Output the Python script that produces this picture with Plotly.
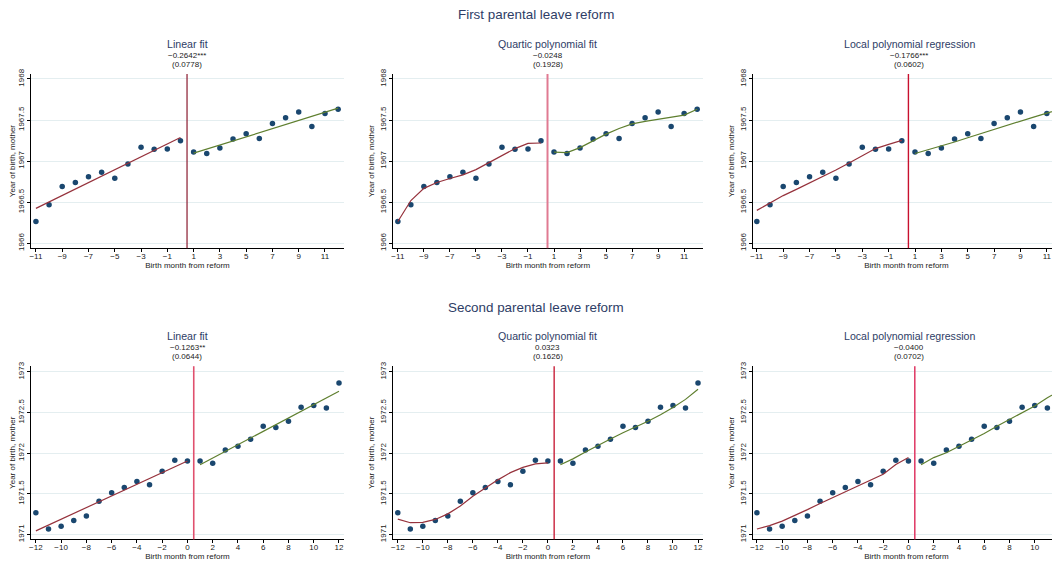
import plotly.graph_objects as go

# first reform: birth months -11..12, cutoff between 0 and 1
months_a_left = list(range(-11, 1))
months_a_right = list(range(1, 13))
yob_a_left = [1966.264, 1966.468, 1966.692, 1966.740, 1966.808, 1966.864,
              1966.792, 1966.964, 1967.168, 1967.144, 1967.148, 1967.248]
yob_a_right = [1967.112, 1967.092, 1967.160, 1967.268, 1967.332, 1967.276,
               1967.456, 1967.528, 1967.596, 1967.420, 1967.580, 1967.632]

lin_a_x_left = [-11, 0]
lin_a_left = [1966.424, 1967.288]
lin_a_x_right = [1, 12]
lin_a_right = [1967.096, 1967.644]

quart_a_left = [1966.264, 1966.520, 1966.668, 1966.740, 1966.788, 1966.832,
                1966.896, 1966.980, 1967.068, 1967.152, 1967.216, 1967.220]
quart_a_right = [1967.108, 1967.104, 1967.164, 1967.248, 1967.328, 1967.396,
                 1967.452, 1967.484, 1967.508, 1967.528, 1967.560, 1967.632]

loc_a_left = [1966.400, 1966.488, 1966.580, 1966.656, 1966.732, 1966.812,
              1966.892, 1966.976, 1967.064, 1967.152, 1967.204, 1967.252]
loc_a_right = [1967.092, 1967.136, 1967.184, 1967.232, 1967.284, 1967.336,
               1967.384, 1967.436, 1967.488, 1967.536, 1967.584, 1967.632]

# second reform: birth months -12..12
months_b_left = list(range(-12, 1))
months_b_right = list(range(1, 13))
yob_b_left = [1971.266, 1971.068, 1971.100, 1971.173, 1971.229, 1971.410, 1971.515,
              1971.579, 1971.652, 1971.612, 1971.777, 1971.913, 1971.905]
yob_b_right = [1971.905, 1971.877, 1972.038, 1972.087, 1972.171, 1972.332,
               1972.316, 1972.392, 1972.565, 1972.586, 1972.557, 1972.863]

lin_b_x_left = [-12, 0]
lin_b_left = [1971.044, 1971.905]
lin_b_x_right = [1, 12]
lin_b_right = [1971.857, 1972.763]

quart_b_left = [1971.189, 1971.145, 1971.149, 1971.185, 1971.254, 1971.350, 1971.471,
                1971.575, 1971.672, 1971.761, 1971.825, 1971.869, 1971.881]
quart_b_right = [1971.857, 1971.930, 1972.014, 1972.099, 1972.175, 1972.252,
                 1972.320, 1972.392, 1972.473, 1972.561, 1972.662, 1972.787]

loc_b_left = [1971.068, 1971.109, 1971.165, 1971.233, 1971.306, 1971.382, 1971.455,
              1971.523, 1971.596, 1971.664, 1971.740, 1971.861, 1971.946]
loc_b_right = [1971.857, 1971.946, 1972.006, 1972.082, 1972.163, 1972.243,
               1972.332, 1972.412, 1972.497, 1972.581, 1972.682, 1972.771]

panel_titles = ["Linear fit", "Quartic polynomial fit", "Local polynomial regression"]
coefs_a = ["−0.2642***", "−0.0248", "−0.1766***"]
ses_a = ["(0.0778)", "(0.1928)", "(0.0602)"]
coefs_b = ["−0.1263**", "0.0323", "−0.0400"]
ses_b = ["(0.0644)", "(0.1626)", "(0.0702)"]
row_titles = ["First parental leave reform", "Second parental leave reform"]

xticks_a = list(range(-11, 12, 2))
xticks_b = list(range(-12, 13, 2))
yticks_a = [1966, 1966.5, 1967, 1967.5, 1968]
yticks_b = [1971, 1971.5, 1972, 1972.5, 1973]
ylabels_a = ["1966", "1966.5", "1967", "1967.5", "1968"]
ylabels_b = ["1971", "1971.5", "1972", "1972.5", "1973"]

# page body has an 8px margin, so the figure is drawn 8px smaller and positions shifted
OFF = 8
W, H = 1060 - OFF, 565 - OFF
NAVY = "#1a476f"
MAROON = "#96323c"
GREEN = "#5f7f2f"
TITLE_C = "#2e3d66"
FONT = "Liberation Sans, Arial, sans-serif"


def fx(p):
    return (p - OFF) / W


def fy(p):
    return 1 - (p - OFF) / H


cols_px = [(28, 342), (391, 702), (752, 1060)]
rows_px = [(69, 246), (366, 542)]
xr_a = [[-11.38, 12.45], [-11.38, 12.45], [-11.3, 12.0]]
xr_b = [[-12.39, 12.4], [-12.39, 12.4], [-12.32, 12.0]]
cut_colors = [["#8a1a2e", "#e07a92", "#c8102e"], ["#e0506e", "#c8203a", "#e0406a"]]
cut_widths = [[1.2, 2, 1.4], [1.6, 1.4, 1.6]]

fig = go.Figure()

rows = [
    dict(xl=months_a_left, xr=months_a_right, yl=yob_a_left, yr=yob_a_right,
         fits=[(lin_a_x_left, lin_a_left, lin_a_x_right, lin_a_right),
               (months_a_left, quart_a_left, months_a_right, quart_a_right),
               (months_a_left, loc_a_left, months_a_right, loc_a_right)],
         coefs=coefs_a, ses=ses_a, xticks=xticks_a, yticks=yticks_a, ylabels=ylabels_a,
         yrange=[1965.94, 1968.06], xranges=xr_a),
    dict(xl=months_b_left, xr=months_b_right, yl=yob_b_left, yr=yob_b_right,
         fits=[(lin_b_x_left, lin_b_left, lin_b_x_right, lin_b_right),
               (months_b_left, quart_b_left, months_b_right, quart_b_right),
               (months_b_left, loc_b_left, months_b_right, loc_b_right)],
         coefs=coefs_b, ses=ses_b, xticks=xticks_b, yticks=yticks_b, ylabels=ylabels_b,
         yrange=[1970.94, 1973.07], xranges=xr_b),
]

annotations = []
shapes = []
k = 0
for r, row in enumerate(rows):
    top, bot = rows_px[r]
    for c in range(3):
        k += 1
        xa = "x" if k == 1 else f"x{k}"
        ya = "y" if k == 1 else f"y{k}"
        left, right = cols_px[c]
        fx_l, fy_l, fx_r, fy_r = row["fits"][c]

        # scatter of means
        fig.add_trace(go.Scatter(x=row["xl"] + row["xr"], y=row["yl"] + row["yr"],
                                 mode="markers", marker=dict(color=NAVY, size=5.5),
                                 xaxis=xa, yaxis=ya, showlegend=False))
        fig.add_trace(go.Scatter(x=fx_l, y=fy_l, mode="lines",
                                 line=dict(color=MAROON, width=1.2),
                                 xaxis=xa, yaxis=ya, showlegend=False))
        fig.add_trace(go.Scatter(x=fx_r, y=fy_r, mode="lines",
                                 line=dict(color=GREEN, width=1.2),
                                 xaxis=xa, yaxis=ya, showlegend=False))

        axis_common = dict(showline=True, linecolor="black", linewidth=1.2,
                           ticks="outside", ticklen=3, tickcolor="black",
                           tickfont=dict(size=8, color="#222", family=FONT),
                           zeroline=False)
        fig.layout[f"xaxis{k}" if k > 1 else "xaxis"] = dict(
            axis_common, domain=[fx(left), min(fx(right), 1)], anchor=ya,
            range=row["xranges"][c], tickvals=row["xticks"], showgrid=False,
            ticklabelstandoff=-3,
            title=dict(text="Birth month from reform", font=dict(size=8, color="#222", family=FONT),
                       standoff=1))
        fig.layout[f"yaxis{k}" if k > 1 else "yaxis"] = dict(
            axis_common, domain=[fy(bot), fy(top)], anchor=xa,
            range=row["yrange"], tickvals=row["yticks"], ticktext=row["ylabels"], tickangle=-90,
            showgrid=True, gridcolor="#e4eef0", gridwidth=1,
            title=dict(text="Year of birth, mother", font=dict(size=8, color="#222", family=FONT),
                       standoff=2))

        shapes.append(dict(type="line", xref=xa, yref=f"{ya} domain", x0=0.5, x1=0.5,
                           y0=0, y1=1, line=dict(color=cut_colors[r][c], width=cut_widths[r][c])))

        cx = fx((left + (right if c < 2 else 1066)) / 2)
        annotations.append(dict(text=panel_titles[c], x=cx, y=fy(top - 31), xref="paper",
                                yref="paper", showarrow=False, xanchor="center", yanchor="middle",
                                font=dict(size=10.6, color=TITLE_C, family=FONT)))
        annotations.append(dict(text=row["coefs"][c], x=cx, y=fy(top - 19), xref="paper",
                                yref="paper", showarrow=False, xanchor="center", yanchor="middle",
                                font=dict(size=8, color="#222", family=FONT)))
        annotations.append(dict(text=row["ses"][c], x=cx, y=fy(top - 10), xref="paper",
                                yref="paper", showarrow=False, xanchor="center", yanchor="middle",
                                font=dict(size=8, color="#222", family=FONT)))

    annotations.append(dict(text=row_titles[r], x=fx(535), y=fy(9 if r == 0 else 306),
                            xref="paper", yref="paper", showarrow=False,
                            xanchor="center", yanchor="middle",
                            font=dict(size=13.4, color=TITLE_C, family=FONT)))

fig.update_layout(width=W, height=H, margin=dict(l=0, r=0, t=0, b=0),
                  plot_bgcolor="white", paper_bgcolor="white",
                  annotations=annotations, shapes=shapes,
                  font=dict(family=FONT))

fig.write_html("out.html")
